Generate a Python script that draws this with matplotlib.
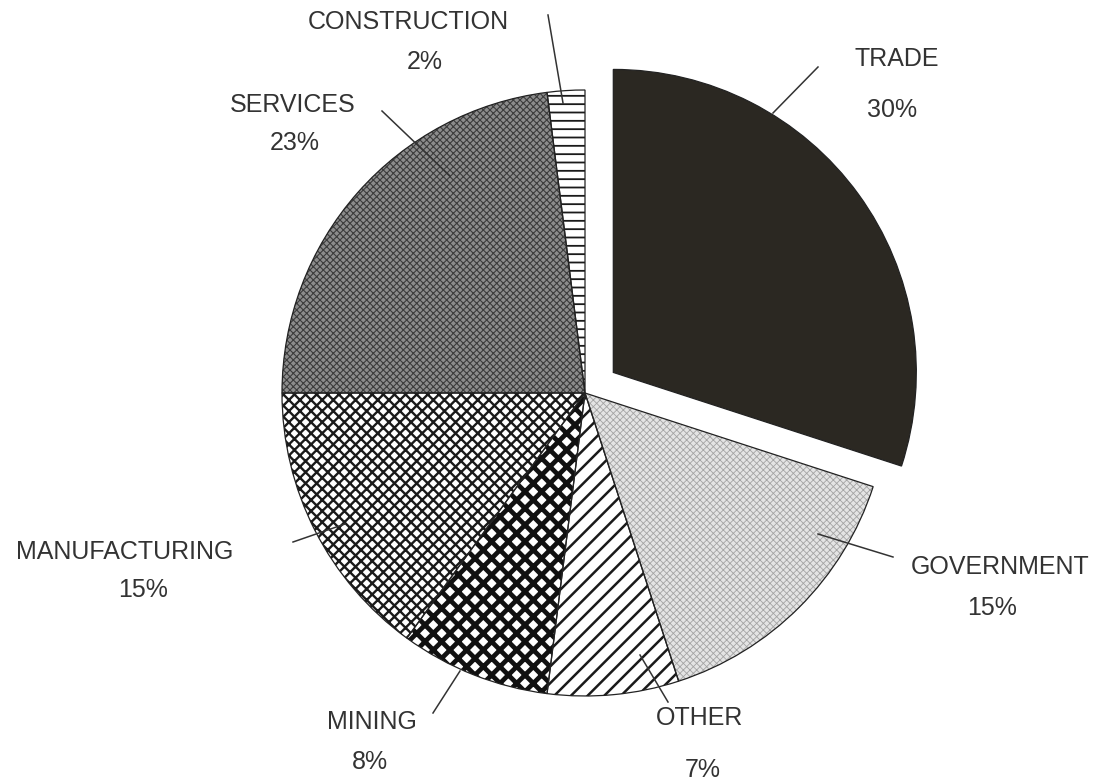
import matplotlib
matplotlib.use("Agg")
import matplotlib.pyplot as plt
import matplotlib.patches as mpatches

# shares of the pie, clockwise from 12 o'clock
sectors = ["TRADE", "GOVERNMENT", "OTHER", "MINING", "MANUFACTURING", "SERVICES", "CONSTRUCTION"]
shares = [30, 15, 7, 8, 15, 23, 2]
pct_labels = ["30%", "15%", "7%", "8%", "15%", "23%", "2%"]
exploded = ["TRADE"]

W, H = 1101, 783

def fy(y):
    # layout below is measured from the top of the picture
    return H - y

# face colour, hatch, hatch colour, hatch width
styles = {
    "TRADE": ("#2b2822", None, "#2b2822", 1.0),
    "GOVERNMENT": ("#e4e4e4", "xxxxx", "#a4a4a4", 0.6),
    "OTHER": ("white", "//", "#1a1a1a", 1.8),
    "MINING": ("white", "xx", "#111111", 3.4),
    "MANUFACTURING": ("white", "xxx", "#1a1a1a", 1.7),
    "SERVICES": ("#8c8c8c", "xxxxx", "#3c3c3c", 0.8),
    "CONSTRUCTION": ("white", "--", "#1a1a1a", 1.3),
}

# label centre (name), label centre (percent), leader line start/end
layout = {
    "TRADE": ((897, 59), (892, 110), (818, 67), (773, 113)),
    "GOVERNMENT": ((1000, 567), (992, 608), (818, 534), (893, 557)),
    "OTHER": ((700, 718), (703, 770), (640, 655), (668, 702)),
    "MINING": ((372, 722), (370, 762), (433, 713), (460, 671)),
    "MANUFACTURING": ((125, 552), (143, 590), (293, 542), (345, 524)),
    "SERVICES": ((293, 105), (295, 143), (382, 111), (450, 176)),
    "CONSTRUCTION": ((408, 22), (425, 62), (548, 15), (563, 103)),
}

plt.rcParams['font.family'] = ['Liberation Sans', 'DejaVu Sans']

fig = plt.figure(figsize=(W / 100, H / 100), dpi=100)
ax = fig.add_axes([0, 0, 1, 1])

explode = [35 if s in exploded else 0 for s in sectors]
wedges, _ = ax.pie(shares, startangle=90, counterclock=False,
                   center=(585, fy(393)), radius=303, explode=explode)
ax.set_xlim(0, W)
ax.set_ylim(0, H)
ax.axis('off')

for w, name in zip(wedges, sectors):
    face, hatch, hcol, hlw = styles[name]
    w.set_facecolor(face)
    w.set_edgecolor(hcol)
    w.set_linewidth(0)
    if hatch:
        w.set_hatch(hatch)
        if hasattr(w, "set_hatch_linewidth"):
            w.set_hatch_linewidth(hlw)
    # thin outline on top of the hatch
    ax.add_patch(mpatches.Wedge(w.center, w.r, w.theta1, w.theta2,
                                fill=False, edgecolor="#222222", lw=0.9))

for name, pct in zip(sectors, pct_labels):
    (nx_, ny_), (px_, py_), (x0, y0), (x1, y1) = layout[name]
    ax.text(nx_, fy(ny_), name, ha='center', va='center', fontsize=18, color='#333333')
    ax.text(px_, fy(py_), pct, ha='center', va='center', fontsize=18, color='#333333')
    ax.plot([x0, x1], [fy(y0), fy(y1)], color='#333333', lw=1.1)

fig.savefig("out.png", dpi=100, facecolor='white')
